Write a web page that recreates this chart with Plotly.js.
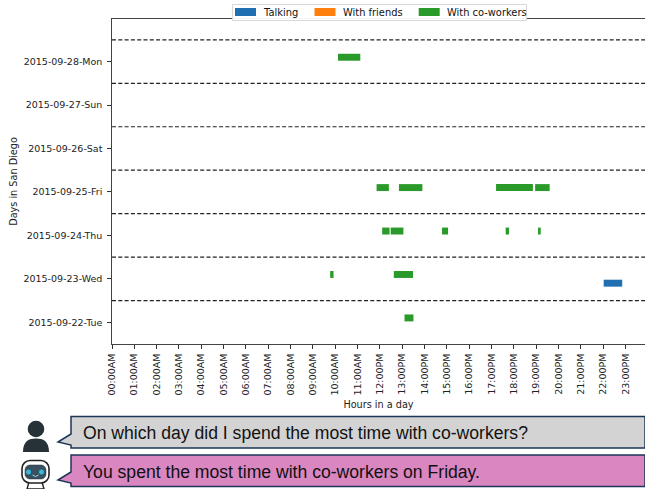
<!DOCTYPE html>
<html><head><meta charset="utf-8">
<script src="https://cdn.plot.ly/plotly-3.0.1.min.js"></script>
<style>html,body{margin:0;padding:0;background:#fff}</style></head>
<body><div id="chart" style="width:645px;height:489px"></div>
<script>
const dayLabels = ["2015-09-22-Tue","2015-09-23-Wed","2015-09-24-Thu","2015-09-25-Fri","2015-09-26-Sat","2015-09-27-Sun","2015-09-28-Mon"];
const hourLabels = ["00:00AM","01:00AM","02:00AM","03:00AM","04:00AM","05:00AM","06:00AM","07:00AM","08:00AM","09:00AM","10:00AM","11:00AM","12:00PM","13:00PM","14:00PM","15:00PM","16:00PM","17:00PM","18:00PM","19:00PM","20:00PM","21:00PM","22:00PM","23:00PM"];
const seriesNames = ["Talking","With friends","With co-workers"];
const seriesColors = ["#1f6fb2","#ff7f0e","#2a9a2a"];
const talkingDay = [1];
const talkingStart = [22.02];
const talkingEnd = [22.85];
const friendsDay = [];
const friendsStart = [];
const friendsEnd = [];
const coworkDay = [0,1,1,2,2,2,2,2,3,3,3,3,6];
const coworkStart = [13.1,9.77,12.62,12.1,12.48,14.78,17.63,19.08,11.85,12.85,17.2,18.95,10.12];
const coworkEnd = [13.5,9.92,13.48,12.43,13.05,15.05,17.78,19.2,12.4,13.9,18.85,19.6,11.12];
const question = "On which day did I spend the most time with co-workers?";
const answer = "You spent the most time with co-workers on Friday.";

const W=645,H=489,L=112,T=19,B=344;
const px=x=>(x-L)/(W-L), py=y=>(B-y)/(B-T);
const P=(x,y)=>px(x).toFixed(5)+","+py(y).toFixed(5);
const poly=(pts,close=true)=>"M"+pts.map(p=>P(p[0],p[1])).join("L")+(close?"Z":"");
const pshape=(path,fill,line,w)=>({type:"path",xref:"paper",yref:"paper",path,fillcolor:fill,line:{color:line||fill,width:w||0},layer:"above"});
const rect=(a,b,c,d,fill,line,w)=>({type:"rect",xref:"paper",yref:"paper",x0:px(a),x1:px(c),y0:py(d),y1:py(b),fillcolor:fill,line:{color:line||fill,width:w||0},layer:"above"});
const circ=(cx,cy,r,fill,line,w)=>({type:"circle",xref:"paper",yref:"paper",x0:px(cx-r),x1:px(cx+r),y0:py(cy+r),y1:py(cy-r),fillcolor:fill,line:{color:line||fill,width:w||0},layer:"above"});
const rr=(a,b,c,d,r)=>{const k=r*0.45;const C=(x1,y1,x2,y2,x,y)=>"C"+P(x1,y1)+" "+P(x2,y2)+" "+P(x,y);
 return "M"+P(a+r,b)+"L"+P(c-r,b)+C(c-k,b,c,b+k,c,b+r)+"L"+P(c,d-r)+C(c,d-k,c-k,d,c-r,d)+"L"+P(a+r,d)+C(a+k,d,a,d-k,a,d-r)+"L"+P(a,b+r)+C(a,b+k,a+k,b,a+r,b)+"Z";};

const mk=(i,days,s,e,off)=>({type:"bar",orientation:"h",name:seriesNames[i],y:days.map(d=>d+off),base:s,x:e.map((v,j)=>v-s[j]),width:0.16,
  marker:{color:seriesColors[i],line:{width:0}},showlegend:false,hoverinfo:"skip"});
const traces=[mk(0,talkingDay,talkingStart,talkingEnd,-0.1),mk(1,friendsDay,friendsStart,friendsEnd,0),mk(2,coworkDay,coworkStart,coworkEnd,0.1)];

const shapes=[];
for(let i=0;i<7;i++) shapes.push({type:"line",xref:"paper",yref:"y",x0:0,x1:1,y0:i+0.5,y1:i+0.5,line:{color:"#222",width:1.2,dash:"4px,2.3px"},layer:"above"});
// legend box
shapes.push(rect(232.5,4.5,526.5,20.5,"rgba(255,255,255,0.95)","#d8d8d8",1));
const legX=[235,314.5,418.7], legT=[261,340.5,445];
seriesNames.forEach((n,i)=>shapes.push(rect(legX[i],8,legX[i]+21,16,seriesColors[i])));
// bubbles
const bubble=(t,b,ty1,tp,ty2,fill)=>pshape(poly([[71,t],[645,t],[645,b],[71,b],[71,ty2],[58,tp],[71,ty1]]),fill,"#1d3557",1.5);
shapes.push(bubble(416.5,448,434,442,445,"#d3d3d3"));
shapes.push(bubble(455,486.5,472,480,483,"#d986c1"));
// user icon
shapes.push(circ(36,429,8.3,"#263238"));
shapes.push(pshape("M"+P(23,452)+"C"+P(23,441)+" "+P(29,438.5)+" "+P(36,438.5)+"C"+P(43,438.5)+" "+P(49,441)+" "+P(49,452)+"Z","#263238"));
// robot icon
shapes.push(pshape(poly([[29,482],[27,489],[44,489],[42,482]]),"#ffffff","#222",1.4));
shapes.push(pshape(rr(22,460.5,49,483,8),"#ffffff","#222",1.6));
shapes.push(pshape(rr(25,465,46,479,5),"#3a5060","#263238",0.5));
shapes.push(circ(28.5,472,3,"#3fb4d6","#1c3a48",0.6));
shapes.push(circ(41.5,472,3,"#3fb4d6","#1c3a48",0.6));
shapes.push(pshape("M"+P(32.5,475)+"Q"+P(35.5,478)+" "+P(38.5,475),"rgba(0,0,0,0)","#9fd8e8",1));

const ann=(x,y,text,size,family,anchor)=>({xref:"paper",yref:"paper",x:px(x),y:py(y),text,showarrow:false,xanchor:anchor||"left",yanchor:"middle",font:{size,family,color:"#111"}});
const annotations=seriesNames.map((n,i)=>ann(legT[i],12,n,9.9,"DejaVu Sans"));
annotations.push(ann(81,433,question,17.6,"Liberation Sans"));
annotations.push(ann(81,472,answer,17.6,"Liberation Sans"));

const layout={width:W,height:H,margin:{l:L,r:0,t:T,b:H-B,autoexpand:false},paper_bgcolor:"#fff",plot_bgcolor:"#fff",showlegend:false,barmode:"overlay",
 font:{family:"DejaVu Sans",size:9.5,color:"#222"},
 xaxis:{range:[0,23.87],tickmode:"array",tickvals:hourLabels.map((_,i)=>i),ticktext:hourLabels,tickangle:-90,ticks:"outside",ticklen:3.5,tickwidth:1,tickcolor:"#333",ticklabelstandoff:1,showgrid:false,zeroline:false,showline:true,mirror:true,linecolor:"#444",linewidth:1.2,automargin:false,
   title:{text:"Hours in a day",font:{size:9.7},standoff:6}},
 yaxis:{range:[-0.5,6.98],tickmode:"array",tickvals:dayLabels.map((_,i)=>i),ticktext:dayLabels,ticks:"outside",ticklen:3.5,tickwidth:1,tickcolor:"#333",ticklabelstandoff:3,showgrid:false,zeroline:false,showline:true,linecolor:"#444",linewidth:1.2,automargin:false,
   title:{text:"Days in San Diego",font:{size:9.7},standoff:4}},
 shapes,annotations};
Plotly.newPlot("chart",traces,layout,{displayModeBar:false,staticPlot:true});
</script></body></html>
